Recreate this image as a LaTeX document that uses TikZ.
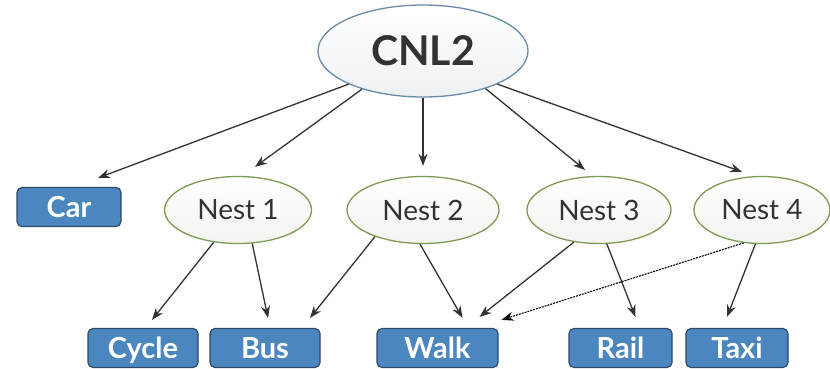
\documentclass[tikz,border=0pt]{standalone}
\usepackage{fontspec}
\setmainfont{Lato}
\usetikzlibrary{shapes.geometric,arrows.meta}
\definecolor{boxfill}{HTML}{4C86BF}
\definecolor{boxline}{HTML}{2F4A66}
\definecolor{nestline}{HTML}{7E9B55}
\definecolor{nestfill}{HTML}{F3F4F0}
\definecolor{topline}{HTML}{6A8BAA}
\definecolor{topfill}{HTML}{EEF1F4}
\definecolor{txt}{HTML}{333333}
\definecolor{arr}{HTML}{333333}
\tikzset{
  topnode/.style={ellipse, draw=topline, line width=1.3pt, top color=white, bottom color=topfill,
    minimum width=210pt, minimum height=92pt, inner sep=0pt,
    font=\fontsize{41}{44}\selectfont\bfseries, text=txt},
  nestnode/.style={ellipse, draw=nestline, line width=1.3pt, top color=white, bottom color=nestfill,
    minimum height=67pt, inner sep=0pt,
    font=\fontsize{28}{30}\selectfont, text=txt},
  altbox/.style={rectangle, rounded corners=5pt, draw=boxline, line width=1.2pt, fill=boxfill,
    minimum height=39pt, inner sep=0pt, text=white, text height=20pt, text depth=0pt,
    font=\fontsize{29}{30}\selectfont\bfseries},
  link/.style={draw=arr, line width=1.3pt, -{Stealth[length=12pt,width=9pt]}},
  dlink/.style={draw=black, line width=1.1pt, dash pattern=on 2pt off 1pt, -{Stealth[length=12pt,width=9pt]}}
}
\begin{document}
\begin{tikzpicture}[x=1pt,y=-1pt]
\path[fill=white] (0,0) rectangle (830,368);
\useasboundingbox (0,0) rectangle (830,368);

\node[topnode] (cnl) at (423,51) {CNL2};

\node[altbox, minimum width=104pt] (car) at (69,207) {Car};
\node[nestnode, minimum width=147pt] (n1) at (238,210) {Nest 1};
\node[nestnode, minimum width=152pt] (n2) at (423,210) {Nest 2};
\node[nestnode, minimum width=144pt] (n3) at (599,210) {Nest 3};
\node[nestnode, minimum width=136pt] (n4) at (762,210) {Nest 4};

\node[altbox, minimum width=110pt] (cycle) at (143,348) {Cycle};
\node[altbox, minimum width=110pt] (bus) at (265,348) {Bus};
\node[altbox, minimum width=121pt] (walk) at (437.5,348) {Walk};
\node[altbox, minimum width=103pt] (rail) at (620.5,348) {Rail};
\node[altbox, minimum width=102pt] (taxi) at (737,348) {Taxi};

\draw[link] (cnl.204) -- ([xshift=29pt,yshift=9pt]car.north);
\draw[link] (cnl.212) -- ([xshift=17pt,yshift=9pt]n1.north);
\draw[link] (cnl.south) -- ([yshift=10pt]n2.north);
\draw[link] (cnl.329) -- ([xshift=-14pt,yshift=6pt]n3.north);
\draw[link] (cnl.336) -- ([xshift=-20pt,yshift=4pt]n4.north);

\draw[link] (n1.233) -- ([xshift=9pt,yshift=8pt]cycle.north);
\draw[link] (n1.293) -- ([xshift=3pt,yshift=10pt]bus.north);
\draw[link] (n2.209) -- ([xshift=45pt,yshift=10pt]bus.north);
\draw[link] (n2.265) -- ([xshift=25pt,yshift=10pt]walk.north);
\draw[link] (n3.232) -- ([xshift=42pt,yshift=11pt]walk.north);
\draw[link] (n3.283) -- ([xshift=15pt,yshift=11pt]rail.north);
\draw[dlink] (n4.241) -- ([xshift=64pt,yshift=8pt]walk.north);
\draw[link] (n4.259) -- ([xshift=-10pt,yshift=11pt]taxi.north);
\end{tikzpicture}
\end{document}
